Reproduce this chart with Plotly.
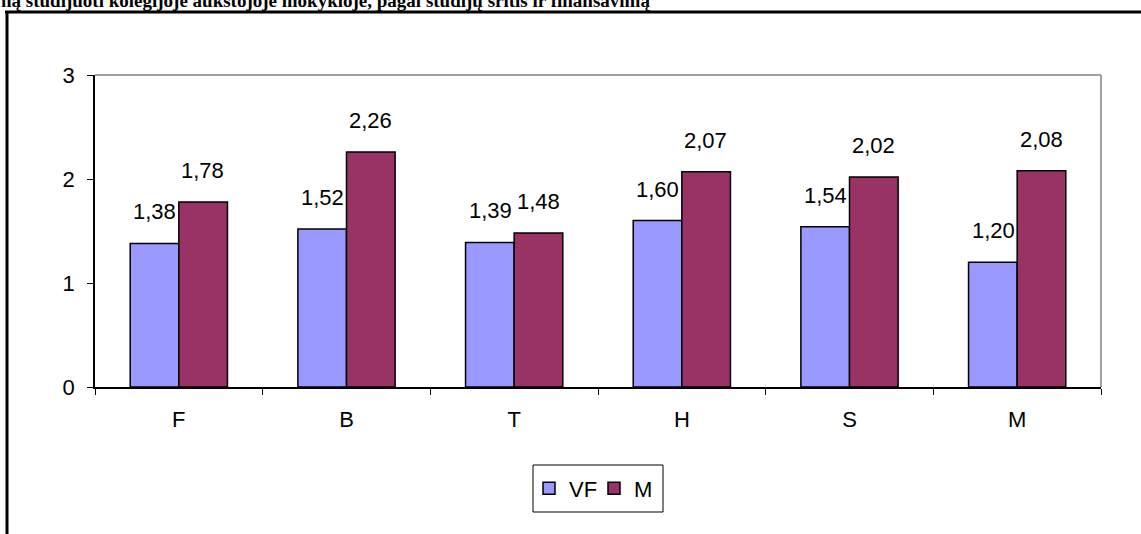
import plotly.graph_objects as go

categories = ["F", "B", "T", "H", "S", "M"]
vf_values = [1.38, 1.52, 1.39, 1.60, 1.54, 1.20]
m_values = [1.78, 2.26, 1.48, 2.07, 2.02, 2.08]
series_names = ["VF", "M"]
title_text = "ną studijuoti kolegijoje aukštojoje mokykloje, pagal studijų sritis ir finansavimą"

W, H = 1141, 534
L, R, T, B = 95, 40, 75, 147
pw = W - L - R
ph = H - T - B

FONT = "Liberation Sans, Arial, sans-serif"
FS = 22
fig = go.Figure()
fig.add_trace(go.Bar(x=categories, y=vf_values, name=series_names[0],
                     marker=dict(color="#9999FF", line=dict(color="black", width=1.5))))
fig.add_trace(go.Bar(x=categories, y=m_values, name=series_names[1],
                     marker=dict(color="#993366", line=dict(color="black", width=1.5))))

# data labels
half = 24
for vals, shift in ((vf_values, -half), (m_values, half)):
    for c, v in zip(categories, vals):
        fig.add_annotation(x=c, y=v, xref="x", yref="y", xshift=shift, yshift=17,
                           text=f"{v:.2f}".replace(".", ","), showarrow=False,
                           yanchor="bottom", font=dict(family=FONT, size=FS, color="black"))

def px_x(p):
    return (p - L) / pw

def px_y(p):
    return (H - B - p) / ph

shapes = [
    # plot area gray border (top and right)
    dict(type="line", xref="paper", yref="paper", x0=0, x1=1, y0=1, y1=1,
         line=dict(color="#808080", width=1.5)),
    dict(type="line", xref="paper", yref="paper", x0=1, x1=1, y0=0, y1=1,
         line=dict(color="#808080", width=1.5)),
    # outer frame
    dict(type="line", xref="paper", yref="paper", x0=px_x(5), x1=px_x(1160), y0=px_y(12), y1=px_y(12),
         line=dict(color="black", width=3)),
    dict(type="line", xref="paper", yref="paper", x0=px_x(7), x1=px_x(7), y0=px_y(12), y1=px_y(560),
         line=dict(color="black", width=3)),
    # legend box
    dict(type="rect", xref="paper", yref="paper", x0=px_x(533), x1=px_x(663), y0=px_y(465), y1=px_y(512),
         line=dict(color="black", width=1), fillcolor="rgba(0,0,0,0)"),
]

fig.add_annotation(xref="paper", yref="paper", x=px_x(-1), y=px_y(1), xanchor="left", yanchor="middle",
                   text="<b>" + title_text + "</b>", showarrow=False,
                   font=dict(family="Liberation Serif, Times New Roman, serif", size=19, color="black"))

fig.update_layout(
    width=W, height=H,
    margin=dict(l=L, r=R, t=T, b=B, autoexpand=False),
    paper_bgcolor="white", plot_bgcolor="white",
    barmode="group", bargap=0.42, bargroupgap=0,
    separators=", ",
    showlegend=True,
    legend=dict(orientation="h", x=px_x(529), xanchor="left", y=px_y(488.5), yanchor="middle",
                borderwidth=0, bgcolor="rgba(0,0,0,0)",
                font=dict(family=FONT, size=FS, color="black"),
                entrywidth=20, entrywidthmode="pixels",
                itemwidth=30, traceorder="normal"),
    shapes=shapes,
    xaxis=dict(type="category", showline=True, linecolor="black", linewidth=1.5,
               ticks="outside", ticklen=6, tickcolor="black", tickson="boundaries",
               showgrid=False, ticklabelstandoff=12,
               tickfont=dict(family=FONT, size=FS, color="black")),
    yaxis=dict(range=[0, 3], dtick=1, showline=True, linecolor="black", linewidth=1.5,
               ticks="outside", ticklen=6, tickcolor="black", showgrid=False, zeroline=False,
               ticklabelstandoff=8, tickfont=dict(family=FONT, size=FS, color="black")),
    font=dict(family=FONT, color="black"),
)

fig.write_html("out.html", config={"displayModeBar": False},
               post_script="document.body.style.margin='0';document.body.style.overflow='hidden';")
